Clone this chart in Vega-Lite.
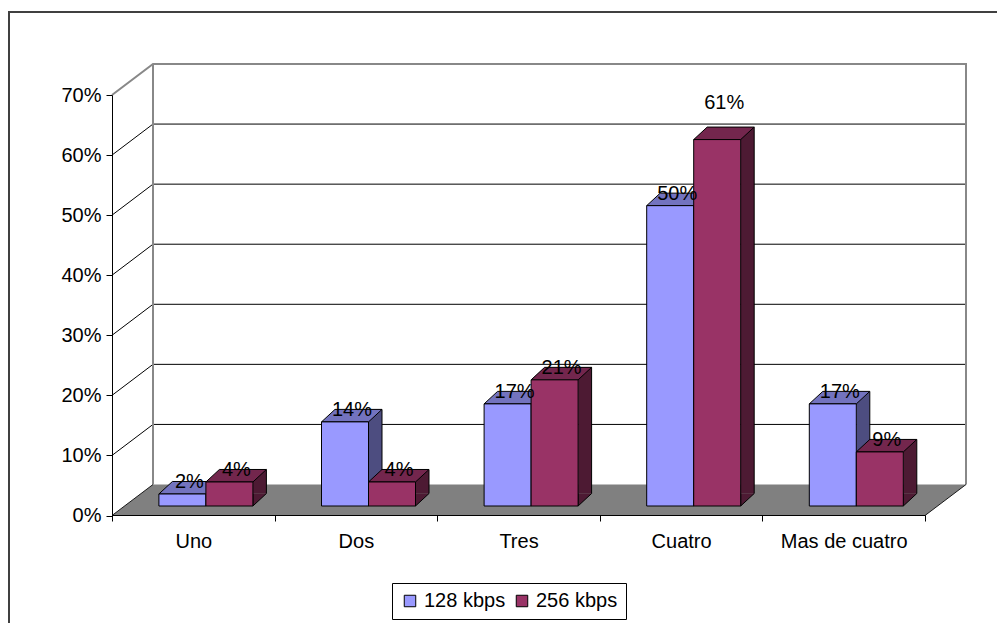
{
  "$schema": "https://vega.github.io/schema/vega-lite/v6.json",
  "width": 988,
  "height": 611,
  "autosize": {"type": "none"},
  "padding": {"left": 9, "top": 12, "right": 0, "bottom": 0},
  "background": "white",
  "config": {
    "font": "Liberation Sans",
    "view": {"stroke": "#404040", "strokeWidth": 2, "strokeDash": [988, 1599, 700]}
  },
  "datasets": {
    "usage": [
      {"category": "Uno", "series": "128 kbps", "value": 0.02},
      {"category": "Uno", "series": "256 kbps", "value": 0.04},
      {"category": "Dos", "series": "128 kbps", "value": 0.14},
      {"category": "Dos", "series": "256 kbps", "value": 0.04},
      {"category": "Tres", "series": "128 kbps", "value": 0.17},
      {"category": "Tres", "series": "256 kbps", "value": 0.21},
      {"category": "Cuatro", "series": "128 kbps", "value": 0.50},
      {"category": "Cuatro", "series": "256 kbps", "value": 0.61},
      {"category": "Mas de cuatro", "series": "128 kbps", "value": 0.17},
      {"category": "Mas de cuatro", "series": "256 kbps", "value": 0.09}
    ],
    "gridlines": [{"v": 0.1}, {"v": 0.2}, {"v": 0.3}, {"v": 0.4}, {"v": 0.5}, {"v": 0.6}],
    "wallTop": [{"v": 0.7}],
    "floor": [{"surface": "floor"}]
  },
  "data": {"name": "usage"},
  "layer": [
    {
      "transform": [{"filter": "datum.series === '128 kbps'"}],
      "mark": {"type": "bar", "width": 47, "xOffset": -10.9, "yOffset": -9.5, "y2Offset": -9.5, "stroke": "#000000", "strokeWidth": 1, "opacity": 0},
      "encoding": {
        "x": {
          "field": "category", "type": "nominal", "title": null,
          "scale": {"type": "band", "domain": ["Uno", "Dos", "Tres", "Cuatro", "Mas de cuatro"], "range": [103, 916], "paddingInner": 0, "paddingOuter": 0},
          "axis": {"orient": "bottom", "offset": -108, "title": null, "tickBand": "extent", "tickSize": 6, "tickColor": "#000000", "domainColor": "#000000", "domainWidth": 1, "labelFontSize": 20, "labelColor": "#000000", "labelPadding": 10, "labelAngle": 0, "grid": false, "zindex": 1}
        },
        "y": {
          "field": "value", "type": "quantitative", "title": null,
          "scale": {"domain": [0, 0.7], "range": [503.5, 83], "nice": false, "zero": true},
          "axis": {"orient": "left", "offset": -103, "title": null, "values": [0, 0.1, 0.2, 0.3, 0.4, 0.5, 0.6, 0.7], "format": ".0%", "tickSize": 6, "tickColor": "#000000", "domainColor": "#000000", "domainWidth": 1, "labelFontSize": 20, "labelColor": "#000000", "labelPadding": 5, "grid": false, "zindex": 1}
        }
      }
    },
    {
      "data": {"name": "gridlines"},
      "mark": {"type": "point", "shape": "M-81.3,0L-40.3,-31L772.7,-31", "size": 4, "filled": false, "stroke": "#000000", "strokeWidth": 1, "opacity": 1},
      "encoding": {
        "x": {"datum": "Uno", "type": "nominal", "title": null},
        "y": {"field": "v", "type": "quantitative", "title": null}
      }
    },
    {
      "data": {"name": "wallTop"},
      "mark": {"type": "point", "shape": "M-81.3,0L-40.3,-31L772.7,-31L772.7,389.5M-40.3,-31L-40.3,389.5", "size": 4, "filled": false, "stroke": "#888888", "strokeWidth": 2, "opacity": 1},
      "encoding": {
        "x": {"datum": "Uno", "type": "nominal", "title": null},
        "y": {"field": "v", "type": "quantitative", "title": null}
      }
    },
    {
      "data": {"name": "floor"},
      "mark": {"type": "point", "shape": "M-40.3,-31L-81.3,0L731.7,0L772.7,-31", "size": 4, "filled": true, "fill": "#808080", "stroke": "#1a1a1a", "strokeWidth": 1, "opacity": 1},
      "encoding": {
        "x": {"datum": "Uno", "type": "nominal", "title": null},
        "y": {"datum": 0, "type": "quantitative", "title": null}
      }
    },
    {
      "transform": [{"filter": "datum.series === '128 kbps'"}],
      "mark": {"type": "bar", "width": 13.5, "xOffset": 19.35, "yOffset": -22, "y2Offset": -22, "fill": "#4D4D80", "strokeWidth": 0},
      "encoding": {
        "x": {"field": "category", "type": "nominal", "title": null},
        "y": {"field": "value", "type": "quantitative", "title": null}
      }
    },
    {
      "transform": [{"filter": "datum.series === '128 kbps'"}],
      "mark": {"type": "point", "shape": "M23.5,-12.5L23.5,0L37,-12.5", "size": 4, "filled": true, "fill": "#4D4D80", "stroke": "#000000", "strokeWidth": 1, "opacity": 1, "xOffset": -10.9, "yOffset": -9.5},
      "encoding": {
        "x": {"field": "category", "type": "nominal", "title": null},
        "y": {"datum": 0, "type": "quantitative", "title": null}
      }
    },
    {
      "transform": [{"filter": "datum.series === '128 kbps'"}],
      "mark": {"type": "rule", "xOffset": 26.1, "yOffset": -22, "y2Offset": -22, "stroke": "#000000", "strokeWidth": 1},
      "encoding": {
        "x": {"field": "category", "type": "nominal", "title": null},
        "y": {"field": "value", "type": "quantitative", "title": null},
        "y2": {"datum": 0}
      }
    },
    {
      "transform": [{"filter": "datum.series === '128 kbps'"}],
      "mark": {"type": "point", "shape": "M-23.5,0L23.5,0L37,-12.5L-10,-12.5Z", "size": 4, "filled": true, "fill": "#7373BF", "stroke": "#000000", "strokeWidth": 1, "opacity": 1, "xOffset": -10.9, "yOffset": -9.5},
      "encoding": {
        "x": {"field": "category", "type": "nominal", "title": null},
        "y": {"field": "value", "type": "quantitative", "title": null}
      }
    },
    {
      "transform": [{"filter": "datum.series === '128 kbps'"}],
      "mark": {"type": "bar", "width": 47, "xOffset": -10.9, "yOffset": -9.5, "y2Offset": -9.5, "stroke": "#000000", "strokeWidth": 1},
      "encoding": {
        "x": {"field": "category", "type": "nominal", "title": null},
        "y": {"field": "value", "type": "quantitative", "title": null},
        "color": {
          "field": "series", "type": "nominal",
          "scale": {"domain": ["128 kbps", "256 kbps"], "range": ["#9999FF", "#993366"]},
          "legend": {"title": null, "orient": "none", "legendX": 383, "legendY": 571, "direction": "horizontal", "symbolType": "square", "symbolSize": 132, "symbolStrokeColor": "#000000", "symbolStrokeWidth": 1, "labelFontSize": 20, "labelColor": "#000000", "labelOffset": 4, "columnPadding": 6, "padding": 8, "strokeColor": "#000000"}
        }
      }
    },
    {
      "transform": [{"filter": "datum.series === '256 kbps'"}],
      "mark": {"type": "bar", "width": 13.5, "xOffset": 66.35, "yOffset": -22, "y2Offset": -22, "fill": "#4D1A33", "strokeWidth": 0},
      "encoding": {
        "x": {"field": "category", "type": "nominal", "title": null},
        "y": {"field": "value", "type": "quantitative", "title": null}
      }
    },
    {
      "transform": [{"filter": "datum.series === '256 kbps'"}],
      "mark": {"type": "point", "shape": "M23.5,-12.5L23.5,0L37,-12.5", "size": 4, "filled": true, "fill": "#4D1A33", "stroke": "#000000", "strokeWidth": 1, "opacity": 1, "xOffset": 36.1, "yOffset": -9.5},
      "encoding": {
        "x": {"field": "category", "type": "nominal", "title": null},
        "y": {"datum": 0, "type": "quantitative", "title": null}
      }
    },
    {
      "transform": [{"filter": "datum.series === '256 kbps'"}],
      "mark": {"type": "rule", "xOffset": 73.1, "yOffset": -22, "y2Offset": -22, "stroke": "#000000", "strokeWidth": 1},
      "encoding": {
        "x": {"field": "category", "type": "nominal", "title": null},
        "y": {"field": "value", "type": "quantitative", "title": null},
        "y2": {"datum": 0}
      }
    },
    {
      "transform": [{"filter": "datum.series === '256 kbps'"}],
      "mark": {"type": "point", "shape": "M-23.5,0L23.5,0L37,-12.5L-10,-12.5Z", "size": 4, "filled": true, "fill": "#73264D", "stroke": "#000000", "strokeWidth": 1, "opacity": 1, "xOffset": 36.1, "yOffset": -9.5},
      "encoding": {
        "x": {"field": "category", "type": "nominal", "title": null},
        "y": {"field": "value", "type": "quantitative", "title": null}
      }
    },
    {
      "transform": [{"filter": "datum.series === '256 kbps'"}],
      "mark": {"type": "bar", "width": 47, "xOffset": 36.1, "yOffset": -9.5, "y2Offset": -9.5, "stroke": "#000000", "strokeWidth": 1},
      "encoding": {
        "x": {"field": "category", "type": "nominal", "title": null},
        "y": {"field": "value", "type": "quantitative", "title": null},
        "color": {"field": "series", "type": "nominal"}
      }
    },
    {
      "transform": [{"filter": "datum.series === '128 kbps'"}],
      "mark": {"type": "text", "fontSize": 20, "color": "#000000", "align": "center", "baseline": "alphabetic", "xOffset": -3.9, "yOffset": -15.5},
      "encoding": {
        "x": {"field": "category", "type": "nominal", "title": null},
        "y": {"field": "value", "type": "quantitative", "title": null},
        "text": {"field": "value", "type": "quantitative", "format": ".0%"}
      }
    },
    {
      "transform": [{"filter": "datum.series === '256 kbps' && datum.value < 0.6"}],
      "mark": {"type": "text", "fontSize": 20, "color": "#000000", "align": "center", "baseline": "alphabetic", "xOffset": 43.1, "yOffset": -15.5},
      "encoding": {
        "x": {"field": "category", "type": "nominal", "title": null},
        "y": {"field": "value", "type": "quantitative", "title": null},
        "text": {"field": "value", "type": "quantitative", "format": ".0%"}
      }
    },
    {
      "transform": [{"filter": "datum.series === '256 kbps' && datum.value >= 0.6"}],
      "mark": {"type": "text", "fontSize": 20, "color": "#000000", "align": "center", "baseline": "alphabetic", "xOffset": 43.1, "yOffset": -40},
      "encoding": {
        "x": {"field": "category", "type": "nominal", "title": null},
        "y": {"field": "value", "type": "quantitative", "title": null},
        "text": {"field": "value", "type": "quantitative", "format": ".0%"}
      }
    }
  ]
}
